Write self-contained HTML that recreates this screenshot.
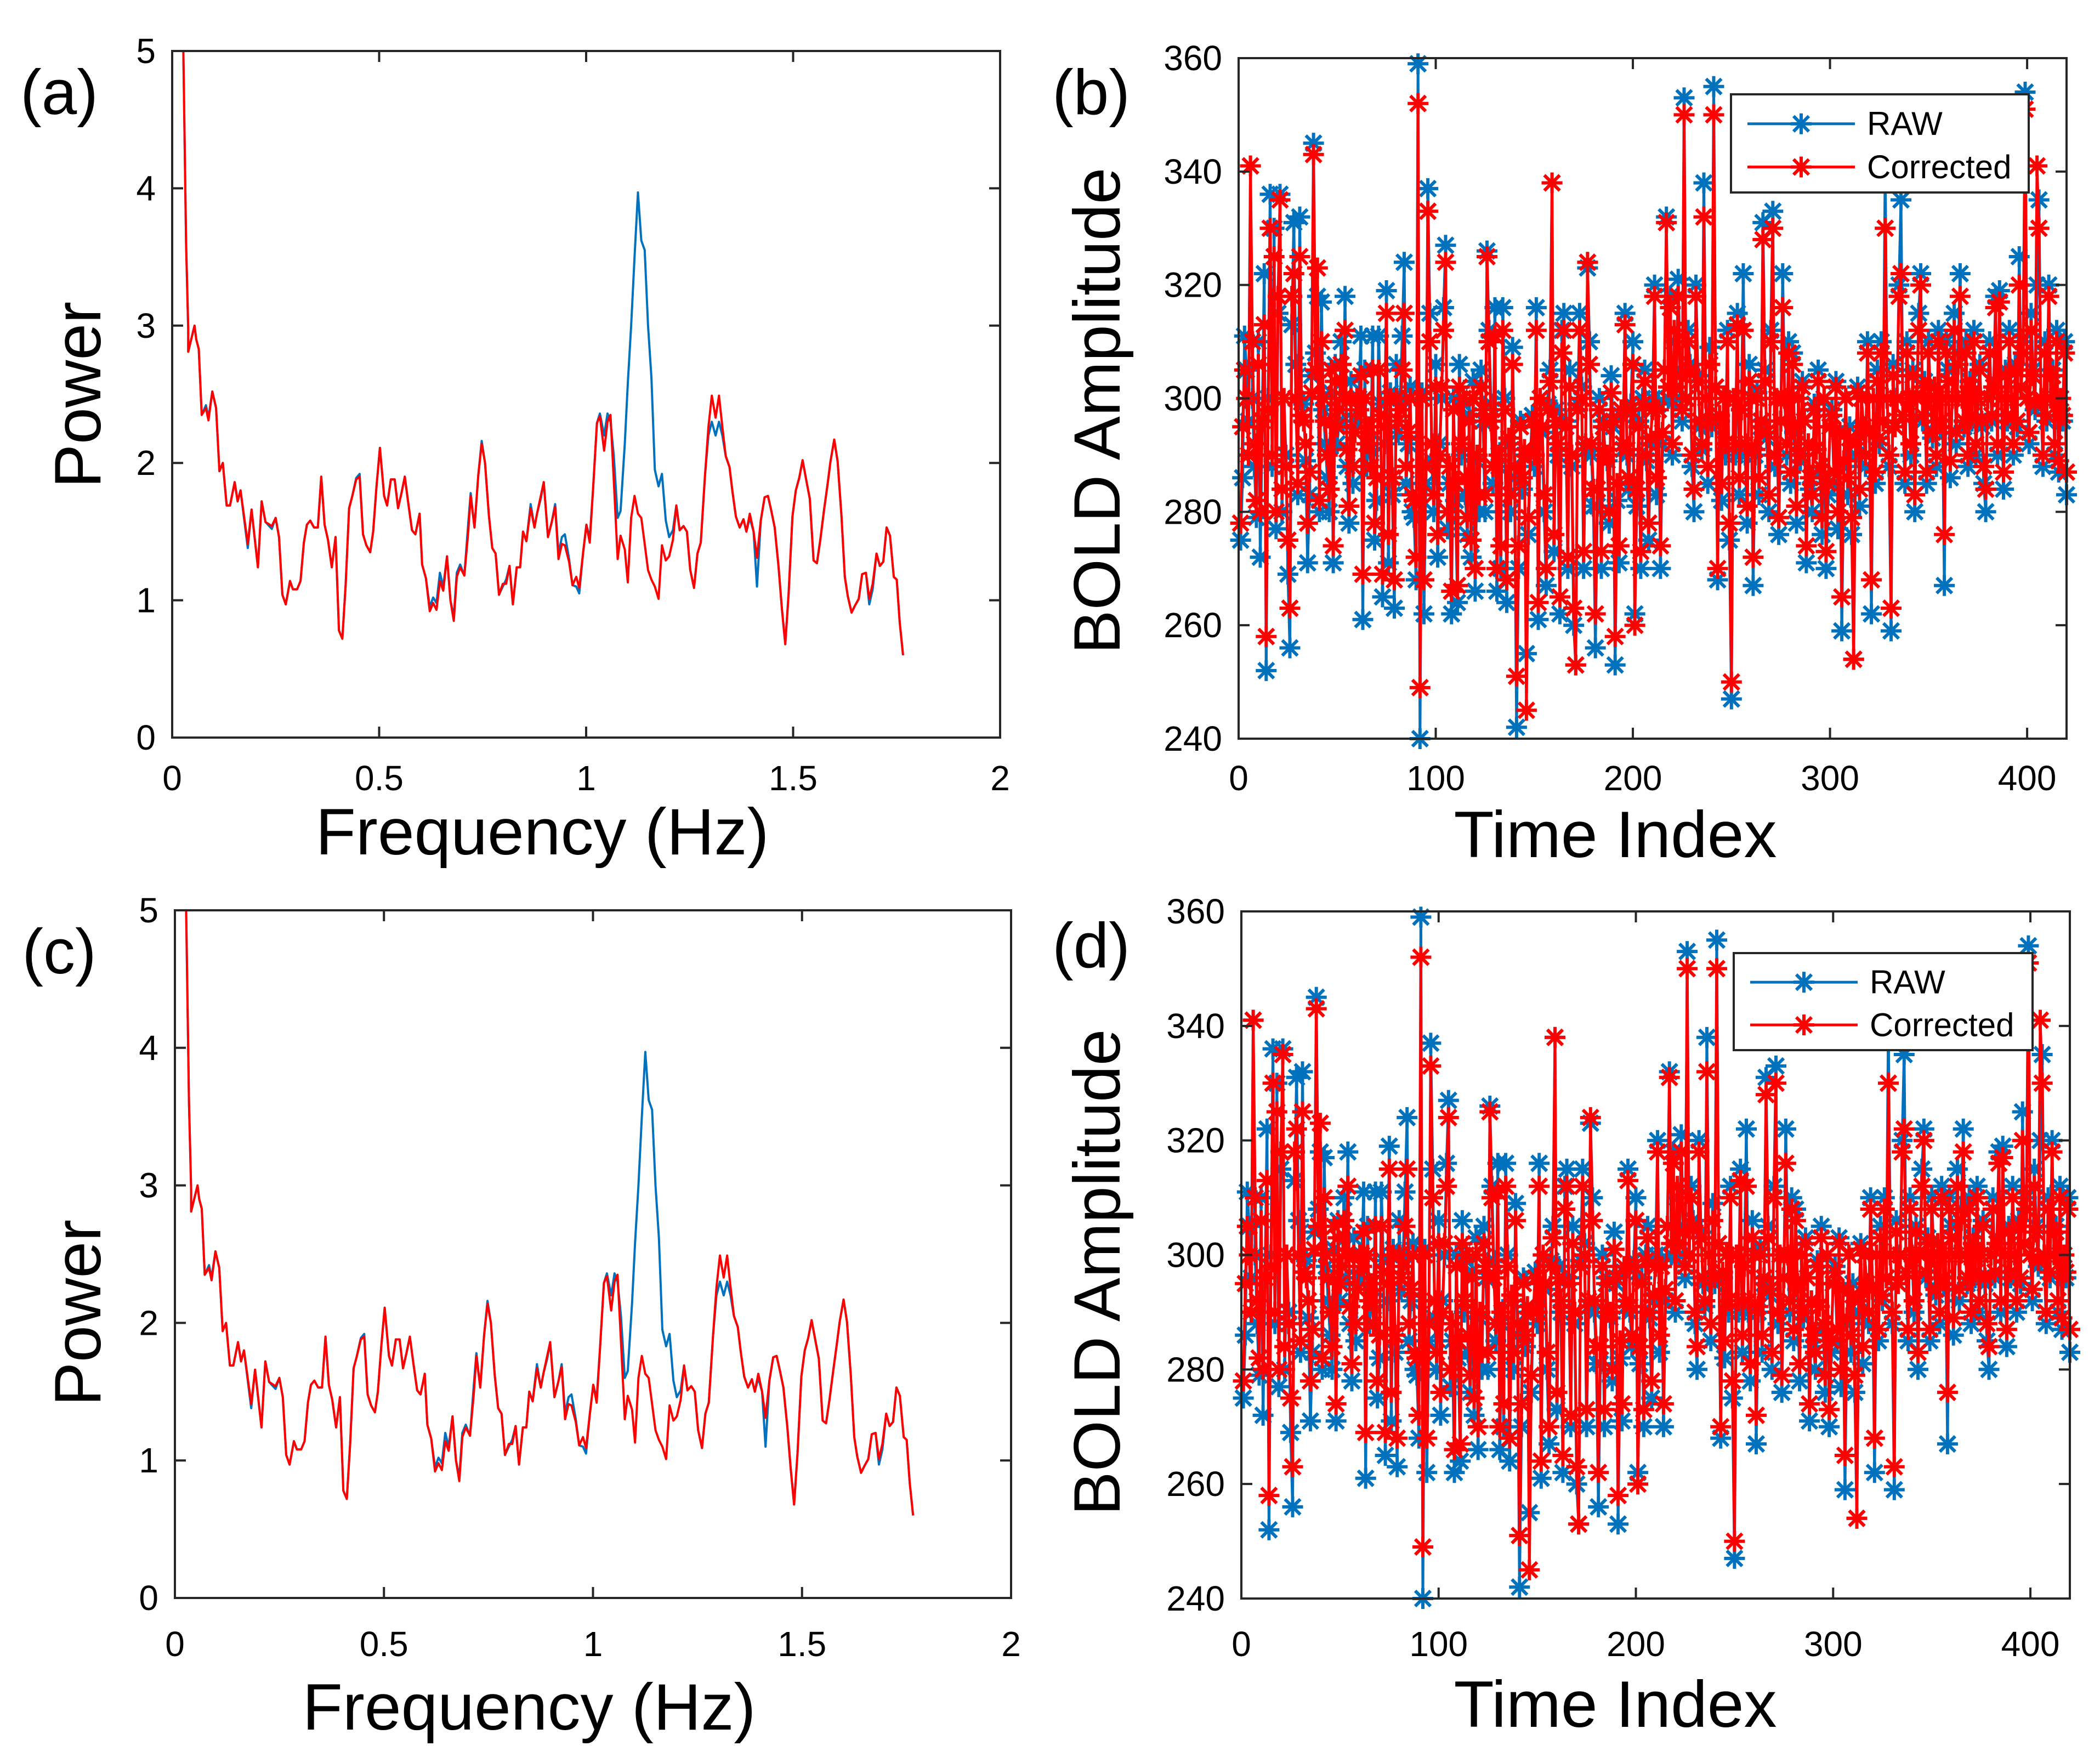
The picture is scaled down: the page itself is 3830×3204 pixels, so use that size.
<!DOCTYPE html>
<html><head><meta charset="utf-8"><style>
html,body{margin:0;padding:0;background:#fff}
svg{display:block}
text{font-family:"Liberation Sans",Arial,sans-serif;fill:#000}
</style></head><body>
<svg id="fig" width="3830" height="3204" viewBox="0 0 3830 3204" xmlns="http://www.w3.org/2000/svg"></svg>
<script>
// ---------- Spectrum data (Hz, Power) ----------
const specFreqRead = [0.025,0.033,0.038,0.038,0.053,0.057,0.063,0.070,0.080,0.086,0.095,0.104,0.112,0.120,0.129,0.137,0.148,0.155,0.162,0.179,0.188,0.203,0.212,0.221,0.236,0.245,0.253,0.261,0.269,0.279,0.286,0.296,0.304,0.312,0.319,0.327,0.336,0.345,0.353,0.361,0.369,0.378,0.387,0.395,0.403,0.411,0.419,0.426,0.436,0.444,0.452,0.460,0.469,0.476,0.484,0.492,0.502,0.509,0.518,0.527,0.535,0.543,0.551,0.559,0.568,0.576,0.586,0.592,0.601,0.610,0.618,0.626,0.634,0.642,0.651,0.659,0.667,0.674,0.682,0.692,0.701,0.707,0.716,0.725,0.733,0.741,0.750,0.758,0.766,0.774,0.783,0.791,0.799,0.807,0.816,0.824,0.831,0.839,0.849,0.858,0.864,0.873,0.880,0.890,0.899,0.907,0.915,0.923,0.930,0.940,0.948,0.957,0.964,0.973,0.981,0.989,0.997,1.006,1.013,1.023,1.031,1.038,1.046,1.055,1.062,1.072,1.079,1.087,1.095,1.103,1.111,1.119,1.127,1.135,1.143,1.152,1.160,1.169,1.177,1.186,1.194,1.202,1.211,1.219,1.227,1.236,1.244,1.252,1.262,1.270,1.278,1.287,1.295,1.303,1.311,1.320,1.327,1.335,1.344,1.353,1.360,1.368,1.377,1.385,1.394,1.403,1.411,1.419,1.427,1.436,1.444,1.452,1.460,1.469,1.477,1.485,1.493,1.502,1.510,1.519,1.527,1.535,1.544,1.552,1.559,1.568,1.576,1.585,1.593,1.600,1.609,1.617,1.626,1.634,1.643,1.651,1.659,1.668,1.676,1.684,1.692,1.700,1.709,1.716,1.723,1.731,1.739,1.744];
// calibration of read frequencies (pixel-reading correction)
const specFreq = specFreqRead.map(f => +(f*1.02).toFixed(4));
const specCorrected = [5.3,3.6,2.97,2.81,3.0,2.9,2.83,2.35,2.4,2.31,2.52,2.4,1.94,2.0,1.69,1.69,1.86,1.72,1.8,1.41,1.66,1.24,1.72,1.57,1.54,1.6,1.46,1.04,0.97,1.14,1.08,1.08,1.14,1.42,1.55,1.58,1.53,1.53,1.9,1.55,1.44,1.24,1.46,0.78,0.72,1.12,1.67,1.75,1.88,1.9,1.48,1.4,1.35,1.5,1.83,2.11,1.76,1.69,1.88,1.88,1.67,1.78,1.9,1.71,1.51,1.48,1.63,1.26,1.16,0.92,0.98,0.93,1.14,1.07,1.32,1.0,0.85,1.17,1.24,1.18,1.49,1.76,1.53,1.91,2.14,2.0,1.62,1.38,1.34,1.04,1.12,1.12,1.25,0.97,1.24,1.24,1.5,1.43,1.67,1.53,1.63,1.76,1.86,1.46,1.57,1.68,1.3,1.41,1.4,1.28,1.11,1.17,1.09,1.34,1.55,1.42,1.82,2.29,2.34,2.09,2.3,2.35,1.87,1.3,1.47,1.37,1.13,1.6,1.76,1.63,1.6,1.41,1.22,1.15,1.1,1.01,1.4,1.29,1.32,1.44,1.69,1.51,1.54,1.5,1.22,1.09,1.34,1.42,1.91,2.26,2.49,2.33,2.49,2.26,2.05,1.97,1.79,1.61,1.53,1.59,1.5,1.63,1.5,1.31,1.58,1.75,1.76,1.65,1.53,1.25,0.94,0.68,1.05,1.61,1.8,1.89,2.02,1.87,1.74,1.29,1.27,1.44,1.66,1.84,2.01,2.17,2.01,1.62,1.17,1.03,0.91,0.96,1.01,1.19,1.2,1.01,1.12,1.34,1.25,1.28,1.53,1.47,1.17,1.15,0.84,0.6];
const specRaw = [5.3,3.6,2.97,2.81,3.0,2.9,2.83,2.35,2.42,2.33,2.52,2.4,1.94,2.0,1.69,1.69,1.86,1.72,1.8,1.38,1.66,1.24,1.72,1.57,1.52,1.6,1.46,1.04,0.97,1.14,1.08,1.08,1.14,1.42,1.55,1.58,1.53,1.53,1.9,1.55,1.44,1.24,1.46,0.78,0.72,1.12,1.67,1.75,1.89,1.92,1.48,1.4,1.35,1.5,1.83,2.11,1.76,1.69,1.88,1.88,1.67,1.78,1.9,1.71,1.51,1.48,1.63,1.26,1.16,0.95,1.02,0.98,1.2,1.1,1.32,1.0,0.88,1.2,1.26,1.18,1.55,1.78,1.53,1.91,2.16,2.0,1.62,1.38,1.34,1.04,1.1,1.15,1.25,0.97,1.24,1.24,1.5,1.43,1.7,1.53,1.63,1.74,1.86,1.46,1.57,1.7,1.34,1.46,1.48,1.3,1.11,1.1,1.05,1.34,1.55,1.45,1.82,2.29,2.36,2.2,2.36,2.3,2.05,1.6,1.65,2.14,2.58,3.0,3.5,3.97,3.62,3.55,3.0,2.62,1.95,1.83,1.92,1.58,1.46,1.51,1.69,1.51,1.54,1.5,1.22,1.09,1.34,1.42,1.91,2.2,2.3,2.2,2.3,2.2,2.05,1.97,1.79,1.61,1.53,1.59,1.5,1.6,1.5,1.1,1.58,1.75,1.76,1.65,1.53,1.25,0.94,0.68,1.05,1.61,1.8,1.89,2.02,1.87,1.74,1.29,1.27,1.44,1.66,1.84,2.01,2.17,2.01,1.62,1.17,1.03,0.91,0.96,1.01,1.19,1.2,0.97,1.08,1.34,1.25,1.28,1.53,1.47,1.17,1.15,0.84,0.6];
const specXTicks = [0,0.5,1,1.5,2];
const specXTickLabels = ["0","0.5","1","1.5","2"];
const specYTicks = [0,1,2,3,4,5];

// ---------- Time series data ----------
const tsRaw = [
275,286,311,305,296,341,300,288,279,310,272,296,322,252,300,336,288,330,277,315,
336,280,300,290,269,256,313,331,306,283,332,297,299,289,271,283,304,345,308,318,
280,317,298,292,286,280,301,271,306,292,296,310,296,318,288,278,303,285,296,296,
300,311,261,305,288,292,291,311,275,282,311,299,265,292,319,271,301,283,263,306,
294,300,311,324,285,292,302,280,279,268,359,240,301,262,285,337,315,289,280,306,
272,292,300,316,327,277,285,262,300,282,264,306,290,299,283,276,297,272,303,266,
289,280,305,296,280,326,312,299,285,316,266,288,270,316,300,264,292,280,309,286,
242,270,296,284,290,255,276,290,297,288,316,261,300,294,280,267,299,305,338,273,
298,290,262,312,315,296,270,305,288,260,253,299,315,302,270,291,323,310,290,281,
256,281,300,270,296,290,289,278,304,295,253,282,271,297,291,315,290,284,299,310,
262,281,296,270,300,305,289,275,292,300,320,283,299,270,292,305,332,300,318,290,
310,300,321,305,296,353,300,312,306,288,280,320,304,295,291,338,300,285,309,295,
355,302,268,296,282,300,290,312,275,247,300,290,315,283,298,322,290,278,306,300,
267,290,301,283,295,331,305,293,280,312,333,288,300,276,296,322,300,290,310,285,
308,294,278,300,289,303,296,271,292,284,280,299,291,305,287,276,300,270,283,295,
298,285,303,277,294,259,288,300,283,295,276,254,290,302,281,300,295,288,310,294,
262,300,285,305,292,310,296,341,300,288,259,306,295,300,320,335,297,285,310,300,
290,305,280,300,315,322,296,303,285,310,300,293,302,288,312,295,300,267,310,305,
286,300,315,292,308,322,300,295,310,288,303,296,312,290,300,306,295,285,280,300,
310,296,302,318,290,319,300,284,305,296,312,300,290,306,295,325,302,310,354,300,
292,315,305,298,320,335,300,288,310,296,320,300,305,290,312,287,300,296,310,283];
const tsCorrected = [
278,295,305,300,290,341,310,292,282,306,280,296,313,258,298,330,290,325,280,318,
335,284,300,288,275,263,318,322,300,285,325,297,296,292,278,287,301,343,305,323,
282,310,300,296,290,284,305,274,303,295,298,306,300,312,291,281,300,288,294,300,
298,304,269,300,292,295,288,305,278,286,305,297,269,295,315,276,300,286,268,300,
296,298,305,315,288,294,300,283,282,272,352,249,300,268,288,333,310,292,283,302,
276,290,302,312,324,280,288,266,298,285,267,302,292,300,286,279,296,275,300,270,
290,283,302,298,283,325,310,296,288,311,270,290,274,312,298,268,293,283,306,288,
251,274,295,286,291,245,279,290,296,290,312,264,300,295,283,270,298,303,338,276,
296,292,265,308,312,295,272,302,290,263,253,298,312,300,273,292,324,306,292,284,
262,284,298,273,295,290,290,280,301,296,258,285,274,298,292,313,291,286,298,306,
260,284,295,273,299,303,290,278,293,298,318,286,298,274,294,305,331,302,316,292,
312,302,318,304,298,350,300,310,305,290,284,318,303,296,292,332,300,288,306,296,
350,302,270,297,285,300,292,310,278,250,300,292,313,286,298,312,292,281,303,300,
272,291,300,286,296,328,303,294,283,310,330,290,300,279,296,316,300,292,308,287,
306,295,281,300,290,302,296,274,292,286,283,298,291,303,288,279,300,273,285,295,
297,287,302,280,294,265,289,300,286,293,279,254,292,301,284,300,295,290,308,294,
268,300,287,303,293,308,296,330,300,290,263,304,295,300,318,322,297,287,308,300,
292,304,283,300,312,320,297,302,287,308,300,294,302,290,310,296,300,276,308,303,
289,300,312,294,306,318,300,296,308,290,302,297,310,292,300,305,296,288,284,300,
308,297,302,316,292,317,300,287,304,297,310,300,292,305,296,320,302,308,351,300,
294,312,304,299,341,330,300,290,308,297,318,300,304,292,310,289,300,297,308,287];
const tsXTicks = [0,100,200,300,400];
const tsYTicks = [240,260,280,300,320,340,360];
const legendLabels = ["RAW","Corrected"];

const NS = "http://www.w3.org/2000/svg";
const svg = document.getElementById('fig');
const BLUE = "#0072BD", RED = "#FF0000", AX = "#262626";
function mk(tag, attrs, parent){
  const e = document.createElementNS(NS, tag);
  for (const k in attrs) e.setAttribute(k, attrs[k]);
  (parent||svg).appendChild(e);
  return e;
}
function txt(s, x, y, size, anchor, parent, rot){
  const t = mk('text', {x:x, y:y, 'font-size':size, 'text-anchor':anchor, 'dominant-baseline':'central'}, parent);
  if (rot) t.setAttribute('transform', 'rotate(-90 '+x+' '+y+')');
  t.textContent = s;
  return t;
}

function axesFrame(g, L, R, T, B, xt, xtl, yt, sx, sy, labY, labXRight){
  mk('rect', {x:L, y:T, width:R-L, height:B-T, fill:'none', stroke:AX, 'stroke-width':4}, g);
  xt.forEach((v,i)=>{
    const x = sx(v);
    const tk = mk('path', {d:`M${x},${B}V${B-20}M${x},${T}V${T+20}`, stroke:AX, 'stroke-width':4}, g);
    
    
    const t = txt(xtl[i], x, labY, 64, 'middle', g);
    
    
  });
  yt.forEach(v=>{
    const y = sy(v);
    const tk = mk('path', {d:`M${L},${y}H${L+20}M${R},${y}H${R-20}`, stroke:AX, 'stroke-width':4}, g);
    
    
    const t = txt(String(v), labXRight, y, 64, 'end', g);
    
    
  });
}

function spectrumPanel(id, L, R, T, B, letter, labY, titleY, titleX, powerY){
  const g = mk('g', {});
  
  
  const sx = f => L + (R-L)*f/2;
  const sy = p => B - (B-T)*p/5;
  const cp = mk('clipPath', {id:'clip'+id}, g);
  mk('rect', {x:L, y:T, width:R-L, height:B-T}, cp);
  const lines = [[specRaw, BLUE, 'raw-spectrum-line'], [specCorrected, RED, 'corrected-spectrum-line']];
  lines.forEach(([arr, col, nm])=>{
    const d = specFreq.map((f,i)=>(i?'L':'M')+sx(f).toFixed(1)+','+sy(arr[i]).toFixed(1)).join('');
    const p = mk('path', {d:d, fill:'none', stroke:col, 'stroke-width':4, 'stroke-linejoin':'round', 'clip-path':'url(#clip'+id+')'}, g);
    
    
  });
  axesFrame(g, L, R, T, B, specXTicks, specXTickLabels, specYTicks, sx, sy, labY, L-30);
  const xt = txt('Frequency (Hz)', titleX, titleY, 120, 'middle', g);
  
  
  const yt = txt('Power', 142, powerY, 120, 'middle', g, true);
  
  
  const pl = txt('('+letter+')', 108, T+75, 116, 'middle', g);
  
  
}

function star(g, x, y, col){
  const r = 19, q = 14;
  return mk('path', {d:`M${x-r},${y}H${x+r}M${x},${y-r}V${y+r}M${x-q},${y-q}L${x+q},${y+q}M${x-q},${y+q}L${x+q},${y-q}`, stroke:col, 'stroke-width':6, fill:'none'}, g);
}

function timePanel(id, L, R, T, B, letter, labY, titleY, boldY, leg){
  const g = mk('g', {});
  
  
  const sx = i => L + (R-L)*i/420;
  const sy = v => B - (B-T)*(v-240)/120;
  const series = [[tsRaw, BLUE, 'raw-series'], [tsCorrected, RED, 'corrected-series']];
  series.forEach(([arr, col, nm])=>{
    const sg = mk('g', {}, g);
    
    
    const d = arr.map((v,i)=>(i?'L':'M')+sx(i+1).toFixed(1)+','+sy(v).toFixed(1)).join('');
    mk('path', {d:d, fill:'none', stroke:col, 'stroke-width':5, 'stroke-linejoin':'round'}, sg);
    arr.forEach((v,i)=>{
      const m = star(sg, +sx(i+1).toFixed(1), +sy(v).toFixed(1), col);
      
      
    });
  });
  axesFrame(g, L, R, T, B, tsXTicks, tsXTicks.map(String), tsYTicks, sx, sy, labY, L-30);
  const xt = txt('Time Index', 2946, titleY, 120, 'middle', g);
  
  
  const yt = txt('BOLD Amplitude', 2001, boldY, 120, 'middle', g, true);
  
  
  const pl = txt('('+letter+')', 1990, T+62, 116, 'middle', g);
  
  
  // legend
  const lg = mk('g', {}, g);
  
  
  mk('rect', {x:leg.x, y:leg.y, width:leg.w, height:leg.h, fill:'#fff', stroke:AX, 'stroke-width':4}, lg);
  [BLUE, RED].forEach((col, k)=>{
    const ey = leg.y + leg.h*(k===0?0.3:0.74);
    const e = mk('g', {}, lg);
    
    
    mk('path', {d:`M${leg.x+30},${ey}H${leg.x+226}`, stroke:col, 'stroke-width':5}, e);
    star(e, leg.x+128, ey, col);
    txt(legendLabels[k], leg.x+248, ey, 60, 'start', e);
  });
}

spectrumPanel('a', 314, 1824, 93, 1345, 'a', 1419, 1517, 989, 720);
timePanel('b', 2259, 3769, 106, 1347, 'b', 1419, 1522, 749, {x:3157, y:172, w:543, h:179});
spectrumPanel('c', 319, 1844, 1660, 2914, 'c', 2998, 3113, 965, 2394);
timePanel('d', 2264, 3775, 1662, 2915, 'd', 2998, 3108, 2320, {x:3162, y:1738, w:545, h:177});
</script>
</body></html>
